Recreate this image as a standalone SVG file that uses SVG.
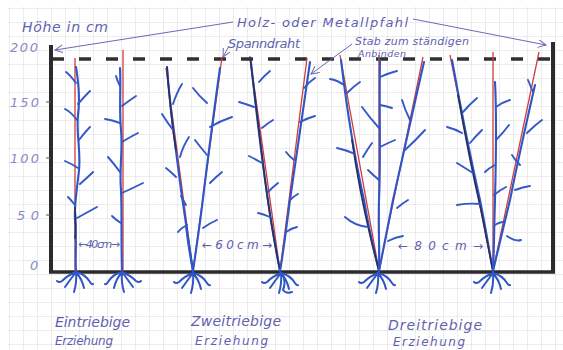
<svg xmlns="http://www.w3.org/2000/svg" width="563" height="350" viewBox="0 0 563 350">
<defs>
<pattern id="grid" x="9" y="8" width="14" height="14" patternUnits="userSpaceOnUse">
<path d="M0,0 H14 M0,0 V14" fill="none" stroke="#d6d6d6" stroke-width="0.9"/>
</pattern>
<marker id="arr" markerWidth="10" markerHeight="10" refX="8" refY="4" orient="auto" markerUnits="userSpaceOnUse">
<path d="M0,0 L8,4 L0,8" fill="none" stroke="#6a6ab6" stroke-width="1"/>
</marker>
<g id="roots">
<path d="M0,0 Q-8,3 -14,9 Q-17,11 -19,9 M0,0 Q-6,8 -11,15 M0,0 Q1,10 -2,20 M0,0 Q6,7 8,16 M0,0 Q9,2 14,10 Q16,13 17,12"/>
</g>
<style>
.stake{stroke:#d23c3c;stroke-width:1.3;fill:none}
.stem{stroke:#2f55c6;stroke-width:2.1;fill:none;stroke-linecap:round}
.dark{stroke:#283063;stroke-width:1.7;fill:none;stroke-linecap:round}
.br{stroke:#3358c9;stroke-width:1.9;fill:none;stroke-linecap:round}
.root{stroke:#2f55c6;stroke-width:2;fill:none;stroke-linecap:round}
.post{stroke:#2b2b2b;stroke-width:4;fill:none}
.wire{stroke:#303030;stroke-width:3.6;stroke-dasharray:12 15;fill:none}
.ann{stroke:#6a6ab6;stroke-width:1;fill:none}
.t{font-family:"DejaVu Sans",sans-serif;font-style:italic;fill:#5f5fb0}
.ax{font-family:"DejaVu Sans",sans-serif;font-style:italic;fill:#8a8ac4;font-size:13px}
</style>
</defs>
<rect width="563" height="350" fill="#ffffff"/>
<rect x="8" y="7" width="555" height="343" fill="url(#grid)"/>

<g id="frame">
<path class="post" d="M51,45 V272"/>
<path class="post" d="M553,42 V272"/>
<path class="post" d="M49,272 H555" style="stroke-width:3.5"/>
<path class="wire" d="M52,59 H551"/>
<path d="M46,102 H51 M46,158 H51 M46,215 H51" stroke="#555" stroke-width="1.2"/>
</g>

<g id="axis">
<text class="t" x="22" y="32" font-size="14" textLength="86" lengthAdjust="spacing">Höhe in cm</text>
<text class="ax" x="10" y="52" textLength="28" lengthAdjust="spacing">200</text>
<text class="ax" x="10" y="107" textLength="29" lengthAdjust="spacing">150</text>
<text class="ax" x="10" y="163" textLength="29" lengthAdjust="spacing">100</text>
<text class="ax" x="17" y="220" textLength="22" lengthAdjust="spacing">50</text>
<text class="ax" x="30" y="270">0</text>
</g>

<g id="plant1">
<path class="stake" d="M75,58 V271"/>
<path class="stem" d="M76,67 C79,85 80,100 78,115 C76,135 81,150 79,170 C77,190 74,205 75,220 C77,240 75,258 76,271"/>
<path class="dark" d="M75,208 C76,220 76,230 75,238"/>
<path class="br" d="M76,83 Q70,75 66,72 M78,104 Q85,96 90,91 M77,120 Q71,112 65,109 M79,140 Q85,132 90,127 M78,168 Q72,164 65,161 M80,184 Q88,177 93,172 M75,205 Q71,200 68,197 M77,218 Q88,212 97,207"/>
<use href="#roots" class="root" x="76" y="272"/>
</g>

<g id="plant2">
<path class="stake" d="M123,50 V271"/>
<path class="stem" d="M120,68 C121,90 119,110 121,130 C123,150 119,170 121,190 C122,215 121,240 122,271"/>
<path class="br" d="M120,86 Q117,80 116,76 M122,106 Q130,100 136,96 M120,123 Q112,120 105,119 M122,142 Q130,137 138,133 M120,172 Q115,165 108,157 M122,193 Q133,188 143,183 M121,223 Q116,220 112,216"/>
<use href="#roots" class="root" x="122" y="272" transform="translate(244,0) scale(-1,1)"/>
</g>

<g id="plant3">
<path class="stake" d="M193,271 L166,68 M193,271 L222,57"/>
<path class="stem" d="M167,67 C170,110 176,150 181,190 C186,225 190,250 193,271"/>
<path class="dark" d="M167,67 C169,95 172,125 176,150"/>
<path class="stem" d="M220,68 C214,110 209,150 204,190 C200,225 196,250 193,271"/>
<path class="stem" d="M186,225 C188,245 191,260 193,271"/>
<path class="br" d="M173,104 Q177,92 182,84 M173,130 Q167,122 162,114 M180,157 Q183,146 189,137 M176,177 Q171,172 166,168 M186,205 Q183,200 181,196 M187,225 Q181,228 178,232 M207,103 Q199,96 193,88 M210,127 Q220,121 232,117 M207,155 Q201,148 195,140 M210,183 Q216,177 222,172 M203,228 Q210,223 217,220"/>
<use href="#roots" class="root" x="193" y="273"/>
</g>

<g id="plant4">
<path class="stake" d="M280,271 L250,57 M280,271 L307,58"/>
<path class="stem" d="M251,62 C256,110 262,160 268,200 C272,230 277,255 280,271"/>
<path class="dark" d="M250,57 C255,100 260,140 265,180 C270,220 276,250 280,271"/>
<path class="stem" d="M310,62 C303,110 296,160 290,200 C286,230 283,255 280,271"/>
<path class="br" d="M259,82 Q264,76 270,71 M254,107 Q246,104 239,102 M262,128 Q268,123 273,120 M262,163 Q255,159 249,156 M268,192 Q273,187 278,183 M270,217 Q263,214 258,213 M304,88 Q309,82 315,78 M300,122 Q308,118 315,116 M294,160 Q289,156 286,152 M290,200 Q294,196 298,194 M286,232 Q292,228 297,227"/>
<use href="#roots" class="root" x="281" y="273"/>
<path class="root" d="M283,275 Q286,283 283,290 Q286,294 292,292"/>
</g>

<g id="plant5">
<path class="stake" d="M379,271 L340,55 M379,55 V271 M379,271 L423,57"/>
<path class="stem" d="M341,60 C347,110 355,160 364,200 C369,230 375,255 379,271"/>
<path class="dark" d="M352,140 C357,175 364,210 370,235 C374,252 377,262 379,271"/>
<path class="stem" d="M380,60 C379,110 381,160 379,200 C378,230 380,255 379,271"/>
<path class="stem" d="M424,62 C413,110 402,160 393,200 C387,230 382,255 379,271"/>
<path class="br" d="M344,85 Q337,80 330,79 M347,93 Q354,86 360,82 M379,128 Q370,118 362,107 M380,77 Q389,73 397,71 M380,105 Q386,106 392,108 M355,154 Q346,150 337,148 M363,157 Q367,150 372,143 M380,147 Q388,143 395,140 M410,120 Q405,110 402,100 M405,150 Q416,140 425,130 M379,180 Q373,175 368,170 M368,227 Q355,226 345,217 M397,208 Q403,203 408,200 M388,241 Q396,237 403,236"/>
<use href="#roots" class="root" x="378" y="273"/>
</g>

<g id="plant6">
<path class="stake" d="M493,271 L450,55 M493,52 V271 M493,271 L539,52"/>
<path class="stem" d="M452,60 C461,110 471,160 480,200 C486,230 490,255 493,271"/>
<path class="dark" d="M458,95 C465,135 473,175 481,210 C486,235 490,255 493,271"/>
<path class="stem" d="M495,82 C497,120 496,160 495,200 C494,230 494,255 493,271"/>
<path class="stem" d="M535,85 C527,120 518,160 510,200 C503,230 497,255 493,271"/>
<path class="br" d="M463,112 Q470,104 477,98 M462,133 Q455,129 447,127 M470,143 Q476,136 482,130 M473,173 Q465,168 457,163 M481,204 Q468,203 457,205 M496,107 Q503,102 510,100 M496,140 Q503,133 509,125 M495,165 Q489,168 485,172 M494,195 Q500,190 506,187 M495,225 Q500,222 503,222 M527,133 Q535,125 542,120 M520,165 Q515,160 512,155 M515,190 Q523,187 530,186 M507,236 Q515,242 521,240 M533,92 Q530,85 528,80"/>
<use href="#roots" class="root" x="493" y="273"/>
</g>

<g id="connectors">
<path class="ann" d="M233,22 L55,50" marker-end="url(#arr)"/>
<path class="ann" d="M413,19 L546,45" marker-end="url(#arr)"/>
<path class="ann" d="M229,46 L223,57" marker-end="url(#arr)"/>
<path class="ann" d="M352,44 L311,74" marker-end="url(#arr)"/>
</g>

<g id="labels">
<text class="t" x="237" y="27" font-size="13" textLength="171" lengthAdjust="spacing">Holz- oder Metallpfahl</text>
<text class="t" x="228" y="48" font-size="13" textLength="72" lengthAdjust="spacing">Spanndraht</text>
<text class="t" x="355" y="45" font-size="11" textLength="114" lengthAdjust="spacing">Stab zum ständigen</text>
<text class="t" x="358" y="57" font-size="9.5" textLength="48" lengthAdjust="spacing">Anbinden</text>
<text class="t" x="78" y="248" font-size="11" textLength="42" lengthAdjust="spacing">←40cm→</text>
<text class="t" x="202" y="249" font-size="12" textLength="70" lengthAdjust="spacing">←60cm→</text>
<text class="t" x="398" y="250" font-size="12" textLength="85" lengthAdjust="spacing">←80cm→</text>
<text class="t" x="55" y="327" font-size="14" textLength="75" lengthAdjust="spacing">Eintriebige</text>
<text class="t" x="55" y="345" font-size="12" textLength="58" lengthAdjust="spacing">Erziehung</text>
<text class="t" x="191" y="326" font-size="14" textLength="90" lengthAdjust="spacing">Zweitriebige</text>
<text class="t" x="195" y="345" font-size="12" textLength="73" lengthAdjust="spacing">Erziehung</text>
<text class="t" x="388" y="330" font-size="14" textLength="94" lengthAdjust="spacing">Dreitriebige</text>
<text class="t" x="393" y="346" font-size="12" textLength="72" lengthAdjust="spacing">Erziehung</text>
</g>
</svg>
